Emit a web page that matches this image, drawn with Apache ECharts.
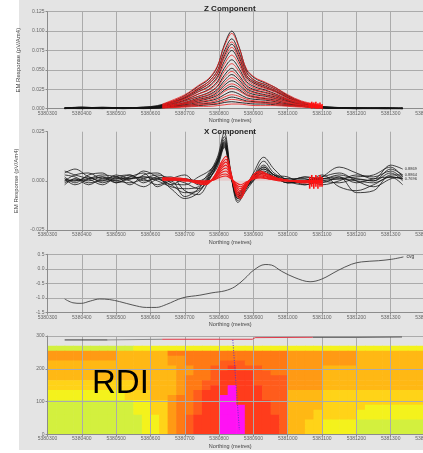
<!DOCTYPE html>
<html>
<head>
<meta charset="utf-8">
<script src="https://cdn.jsdelivr.net/npm/echarts/dist/echarts.min.js"></script>
<style>
  html, body { margin: 0; padding: 0; background: #ffffff; overflow: hidden; }
  #wrap { position: relative; width: 423px; height: 453px; overflow: hidden; }
  #backdrop { position: absolute; left: 19px; top: 0; width: 404px; height: 450px; background: #e4e4e4; }
  #chart { position: absolute; left: 0; top: 0; width: 450px; height: 453px; }
</style>
</head>
<body>
<div id="wrap"><div id="backdrop"></div><div id="chart"></div></div>
<script>
// ---- Profile extent (Northing, metres) ----
const NORTHING_MIN = 5380300;
const NORTHING_MAX = 5381400;

// ---- Z component: observed channels (black) ----
const Z_OBS_X = [5380350, 5380400, 5380460, 5380520, 5380580, 5380620, 5380660, 5380700, 5380740, 5380770, 5380795, 5380815, 5380837, 5380858, 5380880, 5380905, 5380935, 5380965, 5381000, 5381040, 5381080, 5381120, 5381200, 5381280, 5381335];
const Z_OBS = [
  [.001,.002,.001,.001,.002,.004,.009,.017,.029,.038,.054,.082,.100,.080,.050,.039,.033,.027,.017,.009,.004,.002,.001,.001,.000],
  [.001,.001,.002,.001,.001,.003,.008,.015,.026,.035,.049,.074,.090,.073,.047,.036,.031,.025,.016,.008,.004,.002,.001,.000,.001],
  [.000,.002,.001,.001,.002,.003,.007,.014,.024,.032,.045,.068,.083,.067,.043,.034,.029,.023,.015,.008,.004,.001,.001,.001,.000],
  [.001,.001,.001,.000,.001,.003,.007,.013,.022,.029,.041,.061,.075,.061,.040,.032,.027,.022,.014,.008,.003,.002,.000,.001,.001],
  [.000,.001,.001,.001,.001,.002,.006,.011,.019,.025,.035,.052,.063,.052,.035,.028,.024,.019,.012,.007,.003,.001,.001,.000,.000],
  [.001,.001,.000,.001,.001,.002,.005,.010,.016,.021,.029,.043,.052,.043,.030,.024,.021,.017,.011,.006,.003,.001,.000,.001,.000],
  [.000,.001,.001,.000,.001,.002,.004,.008,.014,.018,.025,.036,.044,.037,.026,.021,.018,.015,.010,.005,.002,.001,.001,.000,.000],
  [.001,.000,.001,.001,.000,.002,.004,.007,.012,.015,.021,.030,.036,.031,.022,.018,.016,.013,.009,.005,.002,.001,.000,.000,.001],
  [.000,.001,.000,.001,.001,.001,.003,.006,.010,.013,.017,.024,.029,.025,.018,.015,.013,.011,.007,.004,.002,.001,.000,.001,.000],
  [.000,.001,.001,.000,.001,.001,.003,.005,.008,.010,.013,.018,.022,.019,.014,.012,.011,.009,.006,.004,.002,.001,.001,.000,.000],
  [.001,.000,.000,.001,.000,.001,.002,.004,.006,.007,.009,.012,.015,.013,.010,.009,.008,.007,.005,.003,.002,.001,.000,.000,.000],
  [.000,.000,.001,.000,.001,.001,.002,.003,.004,.005,.006,.008,.009,.008,.007,.006,.006,.005,.004,.003,.001,.001,.000,.000,.000]
];

// ---- Z component: modelled channels (red) ----
const Z_MOD_X = [5380635, 5380700, 5380740, 5380770, 5380795, 5380815, 5380837, 5380858, 5380880, 5380905, 5380935, 5380965, 5381000, 5381040, 5381100];
const Z_MOD = [
  [.006,.018,.030,.039,.055,.080,.097,.079,.051,.040,.034,.027,.018,.010,.004],
  [.005,.016,.027,.035,.049,.071,.086,.070,.046,.036,.031,.025,.016,.009,.004],
  [.005,.015,.025,.032,.045,.065,.079,.064,.042,.033,.028,.023,.015,.008,.003],
  [.004,.013,.022,.028,.039,.057,.069,.057,.038,.030,.026,.021,.013,.008,.003],
  [.004,.012,.019,.024,.033,.048,.058,.048,.033,.026,.023,.018,.012,.007,.003],
  [.003,.010,.016,.020,.028,.040,.048,.040,.028,.023,.020,.016,.011,.006,.002],
  [.003,.008,.013,.017,.023,.033,.040,.034,.024,.020,.017,.014,.009,.005,.002],
  [.002,.007,.011,.014,.019,.027,.032,.028,.020,.016,.014,.012,.008,.005,.002],
  [.002,.006,.009,.011,.015,.022,.026,.023,.017,.014,.012,.010,.007,.004,.002],
  [.002,.004,.007,.008,.011,.015,.018,.016,.012,.010,.009,.008,.005,.003,.001],
  [.001,.003,.005,.006,.007,.010,.012,.011,.009,.008,.007,.006,.004,.003,.001],
  [.001,.002,.003,.003,.004,.005,.006,.006,.005,.004,.004,.004,.003,.002,.001]
];
// error bars at the last stations of the Z profile
const Z_BAR_X  = [5381064, 5381070, 5381076, 5381082, 5381088, 5381094, 5381100];
const Z_BAR_LO = [.001, .000, .001, .000, .000, .001, .000];
const Z_BAR_HI = [.007, .009, .008, .009, .007, .008, .006];

// ---- X component: observed channels (black) ----
const X_OBS_X = [5380350, 5380380, 5380420, 5380460, 5380500, 5380540, 5380580, 5380620, 5380660, 5380700, 5380740, 5380770, 5380795, 5380815, 5380835, 5380855, 5380875, 5380900, 5380930, 5380960, 5381000, 5381050, 5381100, 5381150, 5381200, 5381250, 5381300, 5381335];
const X_OBS = [
  [.004,.006,.002,.000,.003,.001,.005,.002,-.002,.001,-.001,.004,.012,.0245,.004,-.008,-.004,.004,.012,.006,.000,-.002,.002,.007,.004,.001,.008,.006],
  [.002,-.001,.003,.004,-.001,.002,.004,-.003,.000,-.008,-.004,.003,.011,.0225,.003,-.010,-.005,.002,.010,.004,.001,.001,-.001,.002,-.006,-.005,.003,.003],
  [.000,.003,.004,.001,.002,-.002,.003,.004,-.001,-.002,.002,.005,.010,.021,.003,-.009,-.004,.001,.007,.003,.000,.002,.001,.003,.001,.000,.006,.003],
  [-.002,.001,.000,.002,.001,.003,.000,.001,-.004,-.009,-.006,.002,.010,.020,.002,-.011,-.006,.000,.006,.003,-.001,-.001,.003,-.003,-.005,-.002,.002,.001],
  [.003,.002,-.001,.000,.000,.002,.001,-.002,.001,.003,-.002,.001,.009,.019,.003,-.007,-.003,.002,.008,.003,.002,-.002,.000,.001,.002,.003,.007,.002],
  [.001,-.002,.001,.003,.002,.000,-.003,.001,.002,-.005,-.007,.000,.009,.0185,.002,-.009,-.005,.001,.005,.002,-.001,.000,.002,.004,.000,-.003,.001,.002],
  [.000,.000,.002,-.001,.001,.001,.002,.000,-.003,-.004,-.003,.002,.010,.0195,.003,-.008,-.004,.002,.007,.003,.001,.001,-.002,.000,.003,.002,.005,.001],
  [-.001,.001,-.002,.001,.000,-.001,.001,.003,.001,-.001,-.004,.001,.008,.0175,.002,-.006,-.003,.001,.004,.002,.000,-.001,.001,.002,-.001,.001,.002,-.002],
  [.005,.003,.001,-.002,.002,.003,-.001,.002,.000,.001,.000,.003,.009,.018,.003,-.007,-.003,.002,.006,.002,.000,.002,.000,-.001,.001,.000,.004,.000],
  [.001,.000,.001,.002,-.001,.001,.002,.001,-.002,-.006,-.005,.001,.007,.017,.002,-.008,-.004,.000,.004,.002,-.001,.000,.001,.001,.000,-.001,.002,.001]
];
const X_END_TAGS = ['0.8869', '', '0.8864', '', '', '', '', '', '', '0.7696'];

// ---- X component: modelled channels (red) ----
const X_MOD_X = [5380635, 5380670, 5380700, 5380730, 5380760, 5380785, 5380805, 5380820, 5380835, 5380850, 5380862, 5380880, 5380900, 5380920, 5380945, 5380975, 5381010, 5381050, 5381100];
const X_MOD = [
  [.0015,.0015,.001,-.001,-.002,.002,.009,.0125,.004,-.007,-.009,-.003,.003,.005,.003,.001,.000,-.001,-.001],
  [.0015,.001,.001,-.001,-.002,.002,.008,.011,.003,-.006,-.008,-.003,.003,.0045,.003,.001,.000,-.001,-.001],
  [.001,.001,.0005,-.0005,-.0015,.0015,.007,.0095,.003,-.005,-.007,-.002,.002,.004,.0025,.001,.000,-.0005,-.001],
  [.001,.001,.0005,-.0005,-.001,.001,.006,.008,.002,-.004,-.006,-.002,.002,.0035,.002,.001,.000,-.0005,-.0005],
  [.001,.001,.0005,.000,-.001,.001,.005,.0065,.002,-.003,-.005,-.001,.002,.003,.002,.0005,.000,.000,-.0005],
  [.0005,.0005,.0005,.000,-.0005,.001,.004,.005,.0015,-.0025,-.004,-.001,.0015,.0025,.0015,.0005,.000,.000,-.0005],
  [.0005,.0005,.000,.000,-.0005,.0005,.003,.0035,.001,-.002,-.003,-.001,.001,.002,.001,.0005,.000,.000,.000],
  [.0005,.0005,.000,.000,.000,.0005,.002,.0025,.001,-.001,-.002,-.0005,.001,.0015,.001,.000,.000,.000,.000]
];
const X_BAR_X  = [5381064, 5381070, 5381076, 5381082, 5381088, 5381094, 5381100];
const X_BAR_LO = [-.004, -.003, -.004, -.003, -.004, -.003, -.003];
const X_BAR_HI = [.002, .003, .002, .003, .002, .003, .002];

// ---- Conductance profile (cvg) ----
const CVG_X = [5380350, 5380374, 5380398, 5380425, 5380452, 5380481, 5380510, 5380549, 5380588, 5380617, 5380646, 5380694, 5380744, 5380779, 5380817, 5380846, 5380875, 5380900, 5380934, 5380953, 5380982, 5381021, 5381065, 5381099, 5381147, 5381186, 5381215, 5381264, 5381303, 5381337];
const CVG_Y = [-1.03, -1.16, -1.18, -1.10, -1.03, -1.05, -1.12, -1.24, -1.32, -1.32, -1.22, -0.99, -0.90, -0.82, -0.75, -0.61, -0.33, -0.05, 0.15, 0.13, -0.08, -0.30, -0.44, -0.35, -0.05, 0.16, 0.24, 0.28, 0.33, 0.41];

// ---- RDI section: colour class per cell, rows listed from 270 m down to 0 m, 25 m columns from 5380300 ----
const RDI_TOP = 270;
const RDI_ROW_H = 15;
const RDI_COL_W = 25;
const RDI_ROWS = [
  '00000000001111111111111111111111111111111111',
  '44444444333333555555555555554444444433333333',
  '44444444333333445555555555554444444433333333',
  '33333333333333445555666555554444444433333333',
  '33333333333333344556676665554444333333333333',
  '33333333333333344556777766554444333333333333',
  '33333333333333345556777766664444333333333333',
  '22222222223333345566777766664444333333333333',
  '22222222223333345567787776664444333333333333',
  '11111111122233345677787776663333222222222222',
  '11111111122233455677887776663333222222222222',
  '00000000001122455677887777663333222222222222',
  '00000000001122455677888777663333222221111111',
  '00000000001122455677888777663332222211111111',
  '00000000000112456777888777763332222211111111',
  '00000000000112456777888777763322111100000000',
  '00000000000112456777888777763322111100000000',
  '00000000000112456777888777763322111100000000'
];
const RDI_COLOURS = ['#d3f03e', '#f4f21c', '#ffd318', '#ffb814', '#ff9a14', '#ff7a14', '#ff5c1c', '#ff3c1c', '#ff12f4'];

// flight altitude along the section, and the picked conductor axis
const ALT_X = [5380350, 5380475, 5380480, 5380634, 5380897, 5380905, 5381073, 5381200, 5381333];
const ALT_Y = [288, 288, 290, 290, 290, 295, 296, 296, 297];
const PICK_X = [5380840, 5380859];
const PICK_Y = [288, 13];

// ---- layout ----
const GRIDS = [
  { left: 47.5, top: 11.7, width: 377.5, height: 97 },
  { left: 47.5, top: 131.7, width: 377.5, height: 98.3 },
  { left: 47.5, top: 254.3, width: 377.5, height: 58.4 },
  { left: 47.5, top: 336, width: 377.5, height: 98.3 }
];
const FONT = 'Liberation Sans';
const AXIS_GREY = '#8c8c8c';
const GRID_GREY = '#ababab';

const zip = (xs, ys) => xs.map((x, i) => [x, ys[i]]);

function northingAxis(i, z) {
  return {
    gridIndex: i, type: 'value', min: NORTHING_MIN, max: NORTHING_MAX, interval: 100, z: z || 0,
    axisLine: { show: true, onZero: false, lineStyle: { color: AXIS_GREY } },
    axisTick: { show: true, length: 2, lineStyle: { color: AXIS_GREY } },
    axisLabel: { fontSize: 5, color: '#666', margin: 2, formatter: v => String(v), showMaxLabel: true, showMinLabel: true },
    splitLine: { show: true, lineStyle: { color: GRID_GREY, width: 1 } },
    name: 'Northing (metres)', nameLocation: 'middle', nameGap: 9,
    nameTextStyle: { fontSize: 5.5, color: '#444', fontFamily: FONT, padding: [0, 12, 0, 0] }
  };
}
function valueAxis(i, min, max, step, digits, name, z, gridLines) {
  return {
    gridIndex: i, type: 'value', min, max, interval: step, z: z || 0,
    axisLine: { show: true, onZero: false, lineStyle: { color: AXIS_GREY } },
    axisTick: { show: true, length: 2, lineStyle: { color: AXIS_GREY } },
    axisLabel: { fontSize: 5, color: '#666', margin: 3, formatter: v => v.toFixed(digits) },
    splitLine: { show: gridLines !== false, lineStyle: { color: GRID_GREY, width: 1 } },
    name: name || '', nameLocation: 'middle', nameGap: 19,
    nameTextStyle: { fontSize: 6, color: '#444', fontFamily: FONT }
  };
}

function curve(xs, ys, axis, colour, width, extra) {
  return Object.assign({
    type: 'line', xAxisIndex: axis, yAxisIndex: axis, data: zip(xs, ys),
    showSymbol: false, smooth: 0.35, silent: true, animation: false,
    lineStyle: { color: colour, width: width }
  }, extra || {});
}

function errorBars(xs, lo, hi, axis) {
  return {
    type: 'custom', xAxisIndex: axis, yAxisIndex: axis, silent: true, animation: false, z: 4,
    data: xs.map((x, i) => [x, lo[i], hi[i]]),
    renderItem: (params, api) => {
      const a = api.coord([api.value(0), api.value(1)]);
      const b = api.coord([api.value(0), api.value(2)]);
      return { type: 'line', shape: { x1: a[0], y1: a[1], x2: b[0], y2: b[1] }, style: { stroke: '#ff1010', lineWidth: 1.6 } };
    }
  };
}

const series = [];
Z_OBS.forEach(ys => series.push(curve(Z_OBS_X, ys, 0, '#151515', 0.9)));
Z_MOD.forEach(ys => series.push(curve(Z_MOD_X, ys, 0, '#ee1a1a', 0.8, { z: 3 })));
series.push(errorBars(Z_BAR_X, Z_BAR_LO, Z_BAR_HI, 0));

X_OBS.forEach((ys, k) => series.push(curve(X_OBS_X, ys, 1, '#151515', 0.8, X_END_TAGS[k] ? {
  endLabel: { show: true, formatter: X_END_TAGS[k], fontSize: 4, color: '#333', distance: 2, fontFamily: FONT }
} : {})));
X_MOD.forEach((ys, k) => series.push(curve(X_MOD_X, ys, 1, '#ee1a1a', 1.1, k === 0 ? {
  z: 3, areaStyle: { color: 'rgba(240,70,70,0.22)' }
} : { z: 3 })));
series.push(errorBars(X_BAR_X, X_BAR_LO, X_BAR_HI, 1));

series.push(curve(CVG_X, CVG_Y, 2, '#444', 0.9, {
  endLabel: { show: true, formatter: 'cvg', fontSize: 5, color: '#333', distance: 3, fontFamily: FONT }
}));

// RDI cells
const rdiCells = [];
RDI_ROWS.forEach((row, r) => {
  const bottom = RDI_TOP - (r + 1) * RDI_ROW_H;
  [...row].forEach((ch, c) => rdiCells.push([NORTHING_MIN + c * RDI_COL_W, bottom, Number(ch)]));
});
series.push({
  type: 'custom', xAxisIndex: 3, yAxisIndex: 3, silent: true, animation: false, clip: true, z: 1,
  data: rdiCells,
  renderItem: (params, api) => {
    const x = api.value(0), y = api.value(1);
    const p0 = api.coord([x, y + RDI_ROW_H]);
    const p1 = api.coord([x + RDI_COL_W, y]);
    return {
      type: 'rect',
      shape: { x: p0[0], y: p0[1], width: p1[0] - p0[0] + 0.6, height: p1[1] - p0[1] + 0.6 },
      style: { fill: RDI_COLOURS[api.value(2)] }
    };
  }
});
// altitude trace, coloured by segment
series.push(curve(ALT_X.slice(0, 2), ALT_Y.slice(0, 2), 3, '#3a3a3a', 1, { smooth: false, z: 6 }));
series.push(curve(ALT_X.slice(1, 4), ALT_Y.slice(1, 4), 3, '#8a8a8a', 1, { smooth: false, z: 6 }));
series.push(curve(ALT_X.slice(3, 7), ALT_Y.slice(3, 7), 3, '#e03a4a', 1, { smooth: false, z: 6 }));
series.push(curve(ALT_X.slice(6), ALT_Y.slice(6), 3, '#555555', 1, { smooth: false, z: 6 }));
series.push(curve(PICK_X, PICK_Y, 3, '#5a2fd0', 1, { smooth: false, z: 7, lineStyle: { color: '#5a2fd0', width: 1, type: [1, 1.5] } }));

const option = {
  animation: false,
  textStyle: { fontFamily: FONT },
  title: [
    { text: 'Z Component', left: 199, top: 0, textStyle: { fontSize: 8, fontWeight: 'bold', color: '#222', fontFamily: FONT } },
    { text: 'X Component', left: 199, top: 123, textStyle: { fontSize: 8, fontWeight: 'bold', color: '#222', fontFamily: FONT } }
  ],
  grid: GRIDS,
  xAxis: [northingAxis(0), northingAxis(1), northingAxis(2), northingAxis(3, 5)],
  yAxis: [
    valueAxis(0, 0, 0.125, 0.025, 3, 'EM Response (pV/Am4)'),
    valueAxis(1, -0.025, 0.025, 0.025, 3, 'EM Response (pV/Am4)', 0, false),
    valueAxis(2, -1.5, 0.5, 0.5, 1),
    valueAxis(3, 0, 300, 100, 0, '', 5)
  ],
  graphic: [
    { type: 'text', left: 92, top: 367, z: 20, style: { text: 'RDI', font: '33px "Liberation Sans"', fill: '#000' } }
  ],
  series
};

const chart = echarts.init(document.getElementById('chart'), null, { renderer: 'canvas' });
chart.setOption(option);
</script>
</body>
</html>
